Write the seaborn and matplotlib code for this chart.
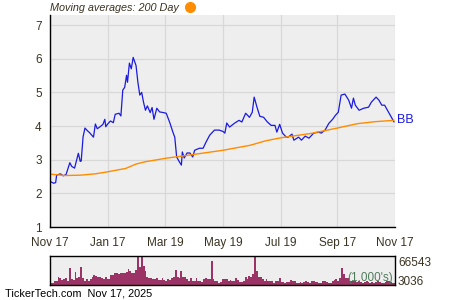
import matplotlib
matplotlib.use("Agg")
import matplotlib.pyplot as plt
import matplotlib.dates as mdates
from matplotlib.ticker import MultipleLocator, FixedLocator, NullLocator
from matplotlib.lines import Line2D
import seaborn as sns
import pandas as pd

# ---------------- data ----------------
price_dates = ["2024-11-18", "2024-11-21", "2024-11-23", "2024-11-24", "2024-11-28", "2024-12-01",
               "2024-12-04", "2024-12-08", "2024-12-10", "2024-12-13", "2024-12-17", "2024-12-19",
               "2024-12-20", "2024-12-22", "2024-12-24", "2024-12-27", "2024-12-29", "2025-01-02",
               "2025-01-04", "2025-01-06", "2025-01-09", "2025-01-12", "2025-01-14", "2025-01-15",
               "2025-01-17", "2025-01-20", "2025-01-23", "2025-01-25", "2025-01-29", "2025-01-31",
               "2025-02-02", "2025-02-04", "2025-02-06", "2025-02-07", "2025-02-09", "2025-02-11",
               "2025-02-13", "2025-02-16", "2025-02-18", "2025-02-20", "2025-02-22", "2025-02-24",
               "2025-02-26", "2025-02-28", "2025-03-03", "2025-03-05", "2025-03-07", "2025-03-10",
               "2025-03-13", "2025-03-17", "2025-03-20", "2025-03-24", "2025-03-27", "2025-03-29",
               "2025-03-31", "2025-04-03", "2025-04-05", "2025-04-06", "2025-04-08", "2025-04-11",
               "2025-04-14", "2025-04-17", "2025-04-19", "2025-04-24", "2025-04-28", "2025-05-01",
               "2025-05-05", "2025-05-10", "2025-05-15", "2025-05-19", "2025-05-21", "2025-05-23",
               "2025-05-26", "2025-05-31", "2025-06-05", "2025-06-08", "2025-06-12", "2025-06-16",
               "2025-06-19", "2025-06-21", "2025-06-24", "2025-06-27", "2025-07-01", "2025-07-05",
               "2025-07-09", "2025-07-13", "2025-07-15", "2025-07-18", "2025-07-21", "2025-07-25",
               "2025-07-27", "2025-07-31", "2025-08-02", "2025-08-07", "2025-08-10", "2025-08-14",
               "2025-08-18", "2025-08-23", "2025-08-28", "2025-08-31", "2025-09-04", "2025-09-08",
               "2025-09-12", "2025-09-15", "2025-09-18", "2025-09-21", "2025-09-25", "2025-09-29",
               "2025-10-02", "2025-10-04", "2025-10-06", "2025-10-10", "2025-10-15", "2025-10-20",
               "2025-10-23", "2025-10-28", "2025-10-31", "2025-11-03", "2025-11-06", "2025-11-09",
               "2025-11-12", "2025-11-16"]
price_values = [2.34, 2.30, 2.32, 2.54, 2.58, 2.52,
                2.56, 2.91, 2.80, 2.75, 3.19, 2.95,
                2.96, 3.68, 3.94, 3.85, 3.80, 3.67,
                4.06, 3.92, 3.98, 4.05, 4.20, 3.98,
                4.06, 4.15, 4.10, 4.35, 4.38, 4.30,
                5.07, 5.15, 5.51, 5.30, 5.87, 5.70,
                6.04, 5.80, 5.30, 4.92, 5.00, 4.70,
                4.47, 4.60, 4.40, 4.55, 4.20, 4.53,
                4.42, 4.40, 4.38, 4.08, 3.82, 3.67,
                3.08, 2.93, 2.84, 3.23, 3.05, 3.20,
                3.20, 3.08, 3.28, 3.34, 3.34, 3.52,
                3.73, 3.88, 3.88, 3.84, 3.79, 4.09,
                3.97, 4.08, 4.17, 4.12, 4.38, 4.26,
                4.41, 4.86, 4.56, 4.29, 4.26, 4.12,
                4.02, 4.02, 3.82, 4.05, 3.79, 3.67,
                3.67, 3.76, 3.58, 3.67, 3.58, 3.70,
                3.64, 3.79, 3.82, 3.79, 3.88, 4.08,
                4.20, 4.32, 4.41, 4.92, 4.95, 4.77,
                4.53, 4.83, 4.62, 4.47, 4.53, 4.56,
                4.71, 4.86, 4.77, 4.62, 4.62, 4.47,
                4.32, 4.12]

ma_dates = ["2024-11-17", "2024-12-03", "2024-12-19", "2025-01-04", "2025-01-17", "2025-02-05",
            "2025-02-16", "2025-02-26", "2025-03-19", "2025-04-19", "2025-05-19", "2025-06-17",
            "2025-07-03", "2025-07-19", "2025-08-20", "2025-09-17", "2025-10-08", "2025-10-27",
            "2025-11-16"]
ma_values = [2.57, 2.53, 2.54, 2.58, 2.64, 2.74,
             2.87, 2.94, 3.04, 3.16, 3.28, 3.43,
             3.56, 3.65, 3.78, 3.94, 4.07, 4.13,
             4.17]

vol_start = "2024-11-18"
vol_step = "2D"
volume_k = [3900, 3900, 8500, 9900, 17700, 16100, 11500, 13100, 16100, 9900, 39000, 13100,
            11500, 29100, 16100, 17700, 40600, 16100, 9900, 13100, 8500, 14500, 19000, 23600,
            20700, 19000, 19000, 16100, 14500, 17700, 14500, 14500, 22300, 23600, 26900, 26900,
            25200, 28200, 28200, 28200, 29800, 36000, 32800, 26900, 28200, 34400,
            66543, 40600, 66543, 44300, 32800, 17700, 16100, 16100, 14500, 14500, 16100, 11500,
            11500, 16100, 11500, 8500, 14500, 11500, 16100, 19000, 34400, 17700, 16100, 31400,
            17700, 17700, 13100, 9900, 16100, 9900, 9900, 16100, 8500, 9900, 6900, 14500,
            16100, 13100, 14500, 54400, 13100, 9900, 9900, 5300, 6900, 13100, 14500,
            13100, 8500, 11500, 9900, 9900, 16100, 11500, 6900, 6900, 9900, 17700, 14500,
            20700, 17700, 25200, 64900, 32800, 19000, 19000, 14500, 9900, 14500, 9900, 8500,
            8500, 5300, 8500, 9900, 16100, 6900, 6900, 5300, 6900, 6900, 11500, 9900,
            9900, 5300, 5300, 6900, 5300, 6900, 9900, 6900, 5300, 8500, 8500,
            6900, 6900, 5300, 5300, 8500, 8500, 6900, 5300, 5300, 8500, 11500, 14500,
            9900, 16100, 39000, 25200, 16100, 16100, 9900, 9900, 9900, 9900,
            6900, 8500, 6900, 5300, 6900, 8500, 6900, 5300, 6900, 5300, 6900, 8500,
            6900, 5300, 5300, 6900, 8500, 9900, 6900, 5300, 5300]

x_tick_dates = ["2024-11-17", "2025-01-17", "2025-03-19", "2025-05-19",
                "2025-07-19", "2025-09-17", "2025-11-17"]
x_tick_labels = ["Nov 17", "Jan 17", "Mar 19", "May 19", "Jul 19", "Sep 17", "Nov 17"]
x_minor_dates = ["2024-12-17", "2025-02-17", "2025-04-19", "2025-06-18",
                 "2025-08-18", "2025-10-17"]
y_ticks = [1, 2, 3, 4, 5, 6, 7]
vol_top_label = "66543"
vol_bottom_label = "3036"
ticker = "BB"

# ---------------- style ----------------
sns.set_style("white")
plt.rcParams["font.family"] = ["Liberation Sans", "DejaVu Sans"]
txt_col = "#3b3322"

fig = plt.figure(figsize=(4.5, 3), dpi=100)
W, H = 450.0, 300.0
ax = fig.add_axes([50 / W, 1 - 227 / H, 345 / W, 212 / H])
ax.set_facecolor("#EEEEEE")

pdf = pd.DataFrame({"date": pd.to_datetime(price_dates), "price": price_values})
mdf = pd.DataFrame({"date": pd.to_datetime(ma_dates), "ma": ma_values})
sns.lineplot(data=pdf, x="date", y="price", ax=ax, color="#1a1ae0", lw=0.9)
sns.lineplot(data=mdf, x="date", y="ma", ax=ax, color="#FF8C00", lw=1.0)

xmin, xmax = pd.Timestamp(x_tick_dates[0]), pd.Timestamp(x_tick_dates[-1])
ax.set_xlim(xmin, xmax)
ax.set_ylim(1, 7.3)
ax.set_xlabel("")
ax.set_ylabel("")

ax.xaxis.set_major_locator(FixedLocator(mdates.date2num(pd.to_datetime(x_tick_dates))))
ax.set_xticklabels(x_tick_labels)
ax.xaxis.set_minor_locator(FixedLocator(mdates.date2num(pd.to_datetime(x_minor_dates))))
ax.set_yticks(y_ticks)
ax.yaxis.set_minor_locator(MultipleLocator(0.5))

ax.grid(True, which="major", color="#D8D8D8", lw=0.9)
ax.set_axisbelow(True)
for s in ["top", "right"]:
    ax.spines[s].set_visible(False)
for s in ["left", "bottom"]:
    ax.spines[s].set_color("black")
    ax.spines[s].set_linewidth(1.0)
ax.tick_params(which="both", direction="in", length=3, width=0.8, color="black",
               labelcolor=txt_col, labelsize=8.5)
ax.tick_params(axis="x", pad=7)
ax.tick_params(axis="y", pad=6)

ax.text(1.006, price_values[-1] + 0.05, ticker, transform=ax.get_yaxis_transform(),
        color="#1a1ae0", fontsize=9, va="center", ha="left")

fig.text(50 / W, 1 - 8 / H, "Moving averages: 200 Day", fontsize=7.8, style="italic",
         color=txt_col, va="center", ha="left")
fig.add_artist(Line2D([190 / W], [1 - 7 / H], marker="o", markersize=7,
                      color="#FF8C00", transform=fig.transFigure))

# ---------------- volume ----------------
vax = fig.add_axes([50 / W, 1 - 285 / H, 345 / W, 29 / H])
vax.set_facecolor("#EEEEEE")
vol_dates = pd.date_range(vol_start, periods=len(volume_k), freq=vol_step)
vax.bar(vol_dates, volume_k, width=2.0, color="#9b3366", edgecolor="none", align="center")
vax.set_xlim(xmin, xmax)
vax.set_ylim(0, float(vol_top_label))
vax.xaxis.set_major_locator(NullLocator())
vax.yaxis.set_major_locator(NullLocator())
vax.xaxis.set_minor_locator(NullLocator())
vax.yaxis.set_minor_locator(NullLocator())
for s in vax.spines.values():
    s.set_color("black")
    s.set_linewidth(1.0)
vax.text(0.995, 0.04, "(1,000's)", transform=vax.transAxes, ha="right", va="bottom",
         fontsize=8.5, color="#4f7d5c")
fig.text(398 / W, 1 - 263 / H, vol_top_label, fontsize=8.5, color=txt_col, va="center", ha="left")
fig.text(398 / W, 1 - 282 / H, vol_bottom_label, fontsize=8.5, color=txt_col, va="center", ha="left")

fig.text(5 / W, 1 - 294 / H, "TickerTech.com  Nov 17, 2025", fontsize=7.8, color="black",
         va="center", ha="left")

fig.savefig("out.png", dpi=100)
